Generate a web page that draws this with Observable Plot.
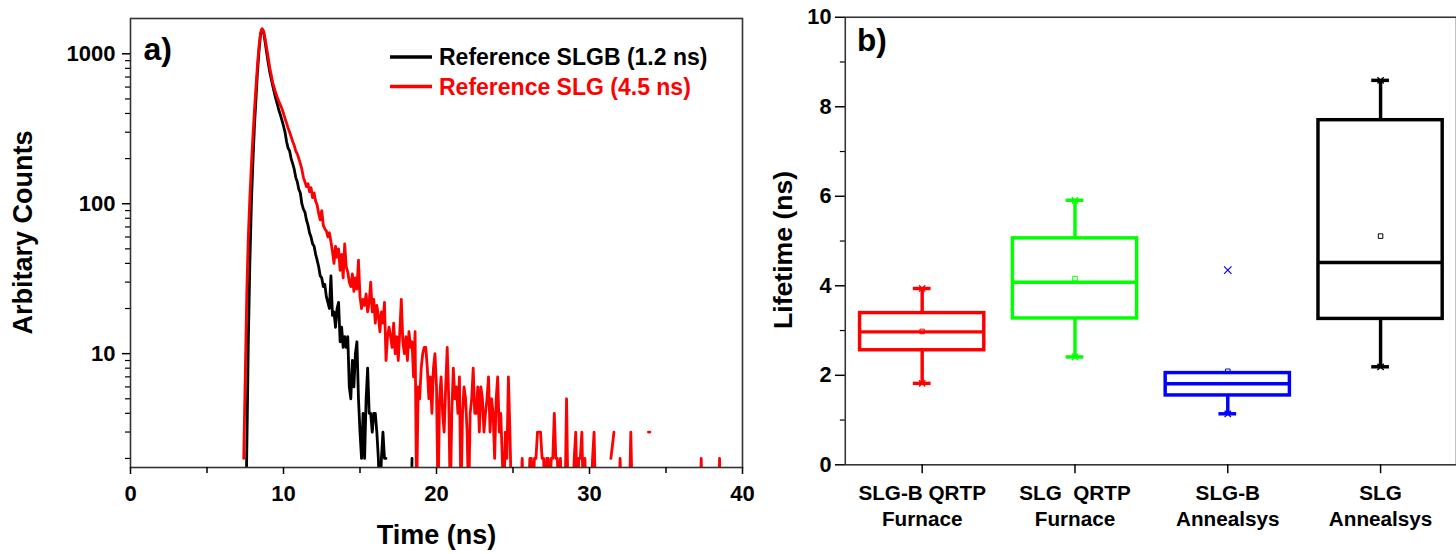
<!DOCTYPE html>
<html><head><meta charset="utf-8">
<script src="https://cdn.jsdelivr.net/npm/d3@7"></script>
<script src="https://cdn.jsdelivr.net/npm/@observablehq/plot@0.6"></script>
<style>
html,body{margin:0;padding:0;background:#fff;overflow:hidden;}
#wrap{position:relative;width:1456px;height:554px;overflow:hidden;background:#fff;}
#pa{position:absolute;left:0;top:0;}
#pb{position:absolute;left:760px;top:0;}
svg text{white-space:pre;}
</style></head><body><div id="wrap"><div id="pa"></div><div id="pb"></div></div>
<script>
// ---------- Panel a data: fluorescence decay (counts vs time, ns) ----------
const slgbTime = [7.55,7.65,7.7,7.8,7.9,8.0,8.1,8.2,8.3,8.4,8.5,8.6,8.7,8.8,8.9,9.0,9.1,9.2,9.3,9.4,9.5,9.6,9.7,9.8,9.9,10.0,10.1,10.2,10.3,10.4,10.5,10.6,10.7,10.8,10.9,11.0,11.1,11.2,11.3,11.4,11.5,11.6,11.7,11.8,11.9,12.0,12.1,12.2,12.3,12.4,12.5,12.6,12.7,12.8,12.9,13.0,13.1,13.2,13.3,13.4,13.5,13.6,13.7,13.8,13.9,14.0,14.1,14.2,14.3,14.4,14.5,14.6,14.7,14.8,14.9,15.0,15.1,15.2,15.3,15.4,15.5,15.6,15.7,15.8,15.9,16.0,16.1,16.2,16.3,16.4,16.5,16.6,16.7,16.8,18.3,18.35,18.4,18.45];
const slgbCounts = [1,5,12,40,100,190,330,500,760,1050,1350,1460,1390,1200,1020,870,760,680,610,550,500,460,420,390,360,330,300,260,235,225,200,185,170,150,140,125,118,100,92,88,78,72,64,60,54,52,46,42,38,33,32,28,29,24,22,20,33,18,19,15,20,22,12,15,11,13,11,13,6,5,9,6,10,12,5,3,2,4,2,5,8,4,4,3,4,4,3,2,1,2,3,2,2,null,null,1,2,null];

const slgTime = [7.4,7.5,7.6,7.7,7.8,7.9,8.0,8.1,8.2,8.3,8.4,8.5,8.6,8.7,8.8,8.9,9.0,9.1,9.2,9.3,9.4,9.5,9.6,9.7,9.8,9.9,10.0,10.1,10.2,10.3,10.4,10.5,10.6,10.7,10.8,10.9,11.0,11.1,11.2,11.3,11.4,11.5,11.6,11.7,11.8,11.9,12.0,12.1,12.2,12.3,12.4,12.5,12.6,12.7,12.8,12.9,13.0,13.1,13.2,13.3,13.4,13.5,13.6,13.7,13.8,13.9,14.0,14.1,14.2,14.3,14.4,14.5,14.6,14.7,14.8,14.9,15.0,15.1,15.2,15.3,15.4,15.5,15.6,15.7,15.8,15.9,16.0,16.1,16.2,16.3,16.4,16.5,16.6,16.7,16.8,16.9,17.0,17.1,17.2,17.3,17.4,17.5,17.6,17.7,17.8,17.9,18.0,18.1,18.2,18.3,18.4,18.5,18.6,18.7,18.8,18.9,19.0,19.1,19.2,19.3,19.4,19.5,19.6,19.7,19.8,19.9,20.0,20.1,20.2,20.3,20.4,20.5,20.6,20.7,20.8,20.9,21.0,21.1,21.2,21.3,21.4,21.5,21.6,21.7,21.8,21.9,22.0,22.1,22.2,22.3,22.4,22.5,22.6,22.7,22.8,22.9,23.0,23.1,23.2,23.3,23.4,23.5,23.6,23.7,23.8,23.9,24.0,24.1,24.2,24.3,24.4,24.5,24.6,24.7,24.8,24.9,25.0,25.5,25.6,25.7,25.8,26.0,26.1,26.2,26.3,26.4,26.5,26.6,26.7,26.8,26.9,27.0,27.1,27.2,27.3,27.4,27.5,27.6,27.7,27.8,27.9,28.0,28.1,28.2,28.3,28.4,28.5,28.6,28.7,28.9,29.0,29.1,29.2,29.3,29.4,29.5,29.6,29.7,29.8,29.9,30.1,30.2,30.3,30.4,30.5,31.3,31.4,31.6,31.7,31.9,32.0,32.1,32.2,32.6,32.7,32.8,32.9,33.8,33.85,33.95,34.0,37.2,37.25,37.3,37.35,37.4,38.4,38.45,38.5,38.55,38.6];
const slgCounts = [2,7,25,60,110,180,280,420,600,850,1120,1380,1470,1420,1260,1090,940,810,720,640,590,545,510,480,455,430,400,370,345,320,300,280,260,245,225,215,200,185,170,150,140,130,136,120,128,110,118,104,98,86,78,90,72,68,66,60,64,56,48,40,52,44,50,36,46,32,54,38,35,30,28,34,26,32,27,42,24,20,23,21,25,19,22,30,19,23,16,21,18,14,19,16,22,9,13,15,13,11,16,10,13,9,14,23,12,10,13,9,14,11,12,7,14,1,6,5,8,10,11,11,8,5,7,4,8,10,6,1,5,7,4,3,6,11,5,1,4,8,5,6,4,7,1,4,6,5,3,1,4,5,8,4,4,6,3,6,5,3,4,5,7,3,5,4,2,5,7,3,4,2,1,3,2,7,3,1,null,1,2,1,null,1,2,2,1,2,2,3,3,3,2,2,1,2,2,1,2,2,4,2,2,1,2,1,null,1,5,1,null,1,2,3,1,2,2,3,1,2,1,null,1,2,3,1,null,null,2,3,null,1,2,1,null,1,3,1,null,null,3,3,null,null,1,2,1,null,null,1,2,1,null];

const seriesNames = ["Reference SLGB (1.2 ns)", "Reference SLG (4.5 ns)"];
const seriesColors = ["#000000", "#ff0000"];
const xTicksA = [0, 10, 20, 30, 40];
const xMinorA = [5, 15, 25, 35];
const yTicksA = [10, 100, 1000];
const yMinorA = [2,3,4,5,6,7,8,9,20,30,40,50,60,70,80,90,200,300,400,500,600,700,800,900];

// ---------- Panel b data: lifetime box plots (ns) ----------
const groups = ["SLG-B QRTP\nFurnace", "SLG  QRTP\nFurnace", "SLG-B\nAnnealsys", "SLG\nAnnealsys"];
const boxColors = ["#ff0000", "#00ff00", "#0000ff", "#000000"];
const whiskerLow = [1.82, 2.41, 1.14, 2.19];
const quart1 = [2.56, 3.27, 1.55, 3.26];
const medians = [2.97, 4.08, 1.81, 4.52];
const quart3 = [3.39, 5.06, 2.05, 7.70];
const whiskerHigh = [3.94, 5.91, 2.05, 8.59];
const means = [2.98, 4.16, 2.09, 5.11];
const outlierGroup = ["SLG-B\nAnnealsys"];
const outlierValue = [4.35];
const yTicksB = [0, 2, 4, 6, 8, 10];
const yMinorB = [1, 3, 5, 7, 9];

const FONT = "'Liberation Sans', Arial, sans-serif";

// ---------- Panel a ----------
const rowsA = (times, counts) => times.map((t, i) => ({t, c: counts[i]}));
const plotA = Plot.plot({
  width: 760, height: 554,
  marginLeft: 130, marginRight: 18, marginTop: 18, marginBottom: 87,
  x: {domain: [0, 40]},
  y: {type: "log", domain: [1.74, 1720]},
  style: {fontFamily: FONT, fontWeight: "bold", background: "white", color: "black", overflow: "visible"},
  marks: [
    Plot.line(rowsA(slgbTime, slgbCounts), {x: "t", y: "c", stroke: seriesColors[0], strokeWidth: 2.8, clip: true}),
    Plot.line(rowsA(slgTime, slgCounts), {x: "t", y: "c", stroke: seriesColors[1], strokeWidth: 2.8, clip: true}),
    Plot.frame({stroke: "#333", strokeWidth: 1.6}),
    Plot.axisX({ticks: xTicksA, tickSize: 7, tickPadding: 11, fontSize: 22, fontWeight: "bold", label: null, strokeWidth: 1.5, tickFormat: d => String(d)}),
    Plot.axisX({ticks: xMinorA, tickSize: 6, tickFormat: () => "", label: null, strokeWidth: 1.5}),
    Plot.axisY({ticks: yTicksA, tickSize: 8, tickPadding: 7, fontSize: 22, fontWeight: "bold", label: null, strokeWidth: 1.5, tickFormat: d => String(d)}),
    Plot.axisY({ticks: yMinorA, tickSize: 5, tickFormat: () => "", label: null, strokeWidth: 1.2}),
    Plot.text(["Time (ns)"], {frameAnchor: "bottom", lineAnchor: "middle", dy: 68, fontSize: 27, fontWeight: "bold"}),
    Plot.text(["Arbitary Counts"], {frameAnchor: "left", textAnchor: "middle", lineAnchor: "middle", rotate: -90, dx: -107, dy: -10.5, fontSize: 27, fontWeight: "bold"}),
    Plot.text(["a)"], {frameAnchor: "top-left", lineAnchor: "top", dx: 13, dy: 19, fontSize: 32, fontWeight: "bold"})
  ]
});
document.getElementById("pa").appendChild(plotA);
const svgA = plotA.tagName.toLowerCase() === "svg" ? plotA : plotA.querySelector("svg");
const lg = d3.select(svgA).append("g")
  .attr("font-family", FONT).attr("font-weight", "bold").attr("font-size", 23)
  .attr("text-anchor", "start");
seriesNames.forEach((name, i) => {
  const y = 57 + i * 29.5;
  lg.append("line").attr("x1", 390).attr("x2", 432).attr("y1", y).attr("y2", y)
    .attr("stroke", seriesColors[i]).attr("stroke-width", 3.5);
  lg.append("text").attr("x", 439).attr("y", y).attr("dy", "0.36em")
    .attr("text-anchor", "start")
    .attr("fill", seriesColors[i]).text(name);
});

// ---------- Panel b ----------
const boxes = groups.map((g, i) => ({
  g, lo: whiskerLow[i], q1: quart1[i], med: medians[i], q3: quart3[i], hi: whiskerHigh[i], mean: means[i], color: boxColors[i]
}));
const outliers = outlierGroup.map((g, i) => ({g, v: outlierValue[i]}));
const withUpper = boxes.filter(d => d.hi > d.q3);
const plotB = Plot.plot({
  width: 706, height: 554,
  marginLeft: 86, marginRight: 0, marginTop: 17, marginBottom: 83,
  x: {type: "band", domain: groups, paddingInner: 0.19, paddingOuter: 0.095},
  y: {domain: [0, 10]},
  color: {type: "identity"},
  style: {fontFamily: FONT, fontWeight: "bold", background: "white", color: "black", overflow: "visible"},
  marks: [
    Plot.ruleX(boxes, {x: "g", y1: "lo", y2: "q1", stroke: "color", strokeWidth: 3.5}),
    Plot.ruleX(withUpper, {x: "g", y1: "q3", y2: "hi", stroke: "color", strokeWidth: 3.5}),
    Plot.tickY(boxes, {x: "g", y: "lo", stroke: "color", strokeWidth: 3.5, insetLeft: 54, insetRight: 54}),
    Plot.tickY(withUpper, {x: "g", y: "hi", stroke: "color", strokeWidth: 3.5, insetLeft: 54, insetRight: 54}),
    Plot.dot(boxes, {x: "g", y: "lo", symbol: "times", r: 3, stroke: "color", strokeWidth: 1.4}),
    Plot.dot(withUpper, {x: "g", y: "hi", symbol: "times", r: 3, stroke: "color", strokeWidth: 1.4}),
    Plot.barY(boxes, {x: "g", y1: "q1", y2: "q3", fill: "none", stroke: "color", strokeWidth: 3.5}),
    Plot.tickY(boxes, {x: "g", y: "med", stroke: "color", strokeWidth: 3.5}),
    Plot.dot(boxes, {x: "g", y: "mean", symbol: "square", r: 2.6, stroke: "color", fill: "none", strokeWidth: 1}),
    Plot.dot(outliers, {x: "g", y: "v", symbol: "times", r: 3.5, stroke: "#0000ff", strokeWidth: 1.2}),
    Plot.frame({stroke: "#333", strokeWidth: 1.6}),
    Plot.axisX({tickSize: 9, tickPadding: 7, fontSize: 21, fontWeight: "bold", lineHeight: 1.29, label: null, strokeWidth: 1.5}),
    Plot.axisY({ticks: yTicksB, tickSize: 10, tickPadding: 4, fontSize: 22, fontWeight: "bold", label: null, strokeWidth: 1.5, tickFormat: d => String(d)}),
    Plot.axisY({ticks: yMinorB, tickSize: 5, tickFormat: () => "", label: null, strokeWidth: 1.2}),
    Plot.text(["Lifetime (ns)"], {frameAnchor: "left", textAnchor: "middle", lineAnchor: "middle", rotate: -90, dx: -63, dy: 9, fontSize: 27, fontWeight: "bold"}),
    Plot.text(["b)"], {frameAnchor: "top-left", lineAnchor: "top", dx: 12, dy: 11, fontSize: 32, fontWeight: "bold"})
  ]
});
document.getElementById("pb").appendChild(plotB);
</script>
</body></html>
